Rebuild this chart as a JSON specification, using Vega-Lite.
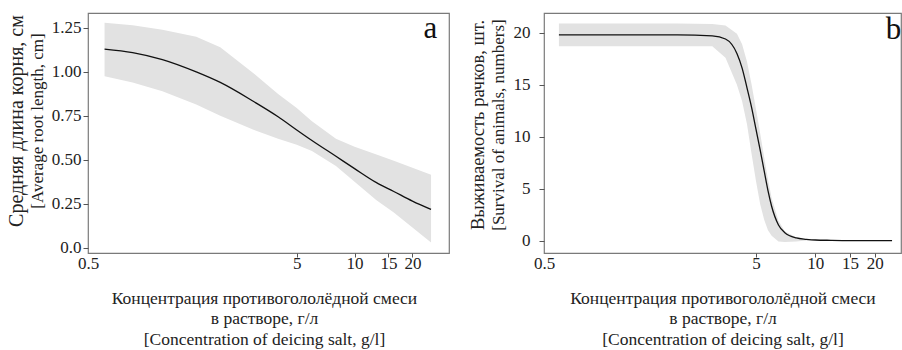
{
  "$schema": "https://vega.github.io/schema/vega-lite/v6.json",
  "padding": {"left": 6, "top": 12, "right": 0, "bottom": 0},
  "background": "white",
  "config": {
    "font": "Liberation Serif",
    "view": {"stroke": "#7a7a7a", "strokeWidth": 1.2},
    "style": {"guide-label": {"font": "Liberation Serif"}, "guide-title": {"font": "Liberation Serif"}, "group-title": {"font": "Liberation Serif"}, "group-subtitle": {"font": "Liberation Serif"}},
    "axis": {"grid": false, "domain": false, "tickColor": "#555", "tickSize": 5, "labelColor": "#222", "labelFontSize": 17, "labelFont": "Liberation Serif", "titleFont": "Liberation Serif", "titleFontWeight": "normal", "titleColor": "#222", "titleFontSize": 17.5, "labelOverlap": false},
    "axisX": {"tickSize": 4, "labelPadding": -2, "titlePadding": 18, "titleLineHeight": 20.5},
    "title": {"font": "Liberation Serif", "fontWeight": "normal", "color": "#222", "subtitleFont": "Liberation Serif", "subtitleColor": "#222"},
    "concat": {"spacing": 17}
  },
  "datasets": {
    "a": [
      {"x": 0.5, "y": 1.13, "lo": 0.975, "hi": 1.28},
      {"x": 0.7, "y": 1.11, "lo": 0.94, "hi": 1.265},
      {"x": 1.0, "y": 1.07, "lo": 0.89, "hi": 1.24},
      {"x": 1.5, "y": 1.0, "lo": 0.815, "hi": 1.2},
      {"x": 2.0, "y": 0.94, "lo": 0.75, "hi": 1.14},
      {"x": 3.0, "y": 0.83, "lo": 0.67, "hi": 0.99},
      {"x": 4.0, "y": 0.745, "lo": 0.62, "hi": 0.875},
      {"x": 5.0, "y": 0.67, "lo": 0.585, "hi": 0.795},
      {"x": 6.0, "y": 0.61, "lo": 0.55, "hi": 0.72},
      {"x": 8.0, "y": 0.52, "lo": 0.465, "hi": 0.62},
      {"x": 10.0, "y": 0.45, "lo": 0.375, "hi": 0.575},
      {"x": 13.0, "y": 0.37, "lo": 0.27, "hi": 0.53},
      {"x": 16.0, "y": 0.32, "lo": 0.2, "hi": 0.495},
      {"x": 20.0, "y": 0.265, "lo": 0.115, "hi": 0.455},
      {"x": 25.0, "y": 0.218, "lo": 0.03, "hi": 0.415}
    ],
    "b": [
      {"x": 0.5, "y": 19.8, "lo": 18.7, "hi": 20.9},
      {"x": 1.0, "y": 19.8, "lo": 18.7, "hi": 20.9},
      {"x": 2.0, "y": 19.8, "lo": 18.7, "hi": 20.9},
      {"x": 3.0, "y": 19.7, "lo": 18.7, "hi": 20.85},
      {"x": 3.5, "y": 19.4, "lo": 17.6, "hi": 20.7},
      {"x": 4.0, "y": 18.0, "lo": 15.0, "hi": 19.9},
      {"x": 4.25, "y": 16.6, "lo": 13.4, "hi": 18.9},
      {"x": 4.5, "y": 14.7, "lo": 11.2, "hi": 17.2},
      {"x": 4.75, "y": 12.8, "lo": 8.3, "hi": 15.0},
      {"x": 5.0, "y": 10.7, "lo": 5.7, "hi": 12.6},
      {"x": 5.25, "y": 8.7, "lo": 3.5, "hi": 10.3},
      {"x": 5.5, "y": 6.7, "lo": 2.0, "hi": 8.0},
      {"x": 5.75, "y": 4.8, "lo": 1.0, "hi": 5.9},
      {"x": 6.0, "y": 3.3, "lo": 0.45, "hi": 4.1},
      {"x": 6.5, "y": 1.5, "lo": -0.1, "hi": 1.9},
      {"x": 7.0, "y": 0.75, "lo": -0.15, "hi": 0.9},
      {"x": 8.0, "y": 0.25, "lo": -0.1, "hi": 0.3},
      {"x": 9.0, "y": 0.12, "lo": 0.0, "hi": 0.15},
      {"x": 10.0, "y": 0.05, "lo": 0.05, "hi": 0.05},
      {"x": 12.0, "y": 0.02, "lo": 0.02, "hi": 0.02},
      {"x": 15.0, "y": 0.0, "lo": 0.0, "hi": 0.0},
      {"x": 20.0, "y": 0.0, "lo": 0.0, "hi": 0.0},
      {"x": 24.5, "y": 0.0, "lo": 0.0, "hi": 0.0}
    ],
    "labels": [
      {"panel": "a", "x": 24.8, "y": 1.193},
      {"panel": "b", "x": 24.9, "y": 19.36}
    ]
  },
  "hconcat": [
    {
      "width": 361,
      "height": 240,
      "title": {"text": "Средняя длина корня, см", "subtitle": "[Average root length, cm]", "orient": "left", "frame": "group", "anchor": "middle", "font": "Liberation Serif", "subtitleFont": "Liberation Serif", "fontSize": 20, "subtitleFontSize": 17, "subtitlePadding": 3, "offset": 5, "dx": 12},
      "layer": [
        {
          "data": {"name": "a"},
          "mark": {"type": "area", "color": "#e2e2e2", "opacity": 1},
          "encoding": {
            "x": {"field": "x", "type": "quantitative", "scale": {"type": "log", "domain": [0.41, 31], "nice": false},
              "axis": {"values": [0.41, 5, 10, 15, 20], "labelExpr": "datum.value < 1 ? '0.5' : datum.label", "labelFlush": false, "tickOpacity": {"condition": {"test": "datum.value < 1", "value": 0}, "value": 1}, "title": ["Концентрация противогололёдной смеси", "в растворе, г/л", "[Concentration of deicing salt, g/l]"], "titleX": 176, "labelFont": "Liberation Serif", "titleFont": "Liberation Serif"}},
            "y": {"field": "lo", "type": "quantitative", "scale": {"domain": [-0.03, 1.335], "nice": false, "zero": false},
              "axis": {"values": [0, 0.25, 0.5, 0.75, 1, 1.25], "labelExpr": "datum.value == 0 ? '0.0' : format(datum.value, '.2f')", "title": null, "labelPadding": 2, "labelFont": "Liberation Serif"}},
            "y2": {"field": "hi"}
          }
        },
        {
          "data": {"name": "a"},
          "mark": {"type": "line", "color": "#111", "strokeWidth": 1.3, "interpolate": "monotone"},
          "encoding": {"x": {"field": "x", "type": "quantitative"}, "y": {"field": "y", "type": "quantitative"}}
        },
        {
          "data": {"name": "labels"},
          "transform": [{"filter": "datum.panel == 'a'"}],
          "mark": {"type": "text", "fontSize": 31, "font": "Liberation Serif", "color": "#111", "baseline": "alphabetic", "align": "center"},
          "encoding": {"x": {"field": "x", "type": "quantitative"}, "y": {"field": "y", "type": "quantitative"}, "text": {"field": "panel"}}
        }
      ]
    },
    {
      "width": 357,
      "height": 240,
      "title": {"text": "Выживаемость рачков, шт.", "subtitle": "[Survival of animals, numbers]", "orient": "left", "frame": "group", "anchor": "middle", "font": "Liberation Serif", "subtitleFont": "Liberation Serif", "fontSize": 18.5, "subtitleFontSize": 17, "subtitlePadding": 4, "offset": 6, "dx": 8},
      "layer": [
        {
          "data": {"name": "b"},
          "mark": {"type": "area", "color": "#e2e2e2", "opacity": 1},
          "encoding": {
            "x": {"field": "x", "type": "quantitative", "scale": {"type": "log", "domain": [0.42, 27.2], "nice": false},
              "axis": {"values": [0.42, 5, 10, 15, 20], "labelExpr": "datum.value < 1 ? '0.5' : datum.label", "labelFlush": false, "tickOpacity": {"condition": {"test": "datum.value < 1", "value": 0}, "value": 1}, "title": ["Концентрация противогололёдной смеси", "в растворе, г/л", "[Concentration of deicing salt, g/l]"], "labelFont": "Liberation Serif", "titleFont": "Liberation Serif"}},
            "y": {"field": "lo", "type": "quantitative", "scale": {"domain": [-1.2, 21.9], "nice": false, "zero": false},
              "axis": {"values": [0, 5, 10, 15, 20], "title": null, "labelPadding": 9, "labelFont": "Liberation Serif"}},
            "y2": {"field": "hi"}
          }
        },
        {
          "data": {"name": "b"},
          "mark": {"type": "line", "color": "#111", "strokeWidth": 1.3, "interpolate": "monotone"},
          "encoding": {"x": {"field": "x", "type": "quantitative"}, "y": {"field": "y", "type": "quantitative"}}
        },
        {
          "data": {"name": "labels"},
          "transform": [{"filter": "datum.panel == 'b'"}],
          "mark": {"type": "text", "fontSize": 31, "font": "Liberation Serif", "color": "#111", "baseline": "alphabetic", "align": "center"},
          "encoding": {"x": {"field": "x", "type": "quantitative"}, "y": {"field": "y", "type": "quantitative"}, "text": {"field": "panel"}}
        }
      ]
    }
  ]
}
